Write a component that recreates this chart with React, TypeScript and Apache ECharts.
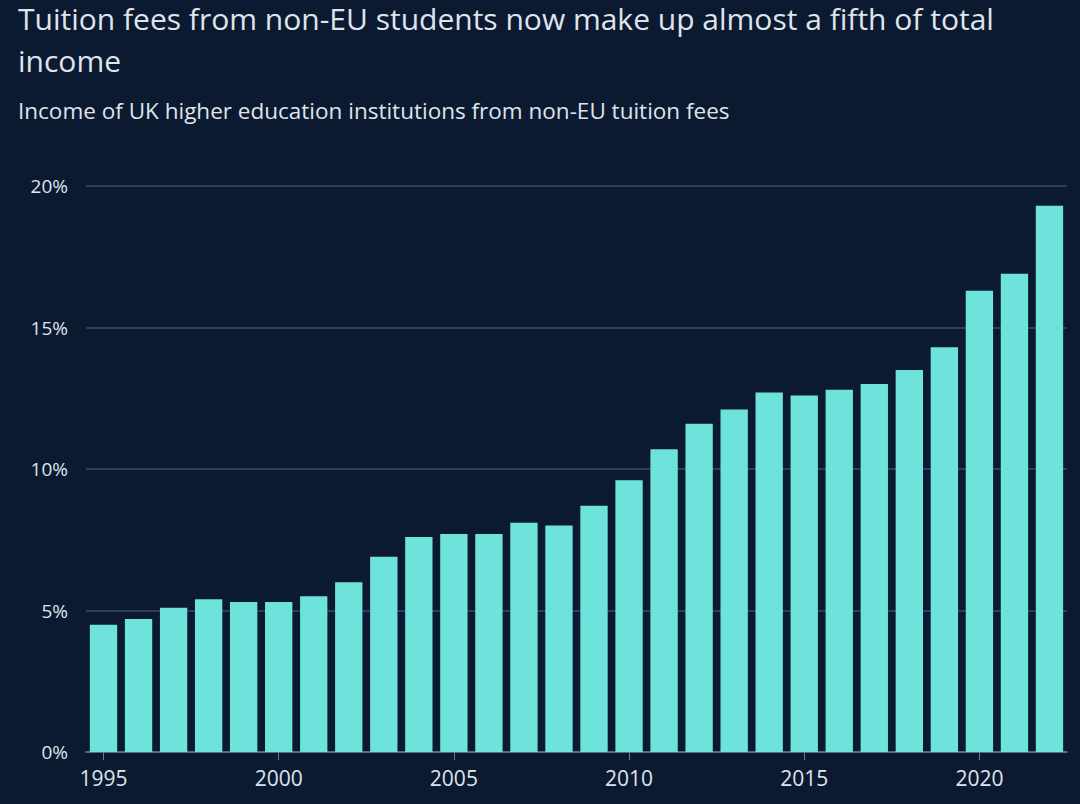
import React, { useEffect, useRef } from "react";
import * as echarts from "echarts";

const years = [
  "1995", "1996", "1997", "1998", "1999", "2000", "2001", "2002", "2003", "2004",
  "2005", "2006", "2007", "2008", "2009", "2010", "2011", "2012", "2013", "2014",
  "2015", "2016", "2017", "2018", "2019", "2020", "2021", "2022",
];
const shareOfIncome = [
  4.5, 4.7, 5.1, 5.4, 5.3, 5.3, 5.5, 6.0, 6.9, 7.6,
  7.7, 7.7, 8.1, 8.0, 8.7, 9.6, 10.7, 11.6, 12.1, 12.7,
  12.6, 12.8, 13.0, 13.5, 14.3, 16.3, 16.9, 19.3,
];
const yTicks = [0, 5, 10, 15, 20];

const titleLine1 = "Tuition fees from non-EU students now make up almost a fifth of total";
const titleLine2 = "income";
const subtitle = "Income of UK higher education institutions from non-EU tuition fees";

const BG = "#0c1a31";
const BAR = "#6de3dc";
const TEXT = "#dfe4ec";
const FONT = "'Open Sans', 'Noto Sans', sans-serif";

export default function App() {
  const ref = useRef<HTMLDivElement>(null);
  useEffect(() => {
    if (!ref.current) return;
    const chart = echarts.init(ref.current, null, { renderer: "svg" });
    chart.setOption({
      animation: false,
      backgroundColor: BG,
      textStyle: { fontFamily: FONT },
      graphic: [
        { type: "text", left: 18, top: 3, style: { text: titleLine1, fill: TEXT, font: `30px ${FONT}` } },
        { type: "text", left: 18, top: 45, style: { text: titleLine2, fill: TEXT, font: `30px ${FONT}` } },
        { type: "text", left: 18, top: 99, style: { text: subtitle, fill: TEXT, font: `22.5px ${FONT}` } },
      ],
      grid: { left: 86, right: 13, top: 186, bottom: 52, containLabel: false },
      xAxis: {
        type: "category",
        data: years,
        axisLine: { show: true, lineStyle: { color: "#6c7a90", width: 1.5 } },
        axisTick: {
          show: true,
          alignWithLabel: true,
          interval: (i: number) => i % 5 === 0,
          length: 8,
          lineStyle: { color: "#6c7a90" },
        },
        axisLabel: {
          interval: (i: number) => i % 5 === 0,
          color: TEXT,
          fontSize: 21,
          fontFamily: FONT,
          margin: 15,
        },
      },
      yAxis: {
        type: "value",
        min: 0,
        max: 20,
        interval: 5,
        axisLine: { show: false },
        axisTick: { show: false },
        splitLine: { lineStyle: { color: "#3b4a63", width: 1.5 } },
        axisLabel: {
          color: TEXT,
          fontSize: 19,
          fontFamily: FONT,
          margin: 18,
          formatter: (v: number) => (yTicks.includes(v) ? `${v}%` : ""),
        },
      },
      series: [
        {
          type: "bar",
          data: shareOfIncome,
          barCategoryGap: "22%",
          itemStyle: { color: BAR },
        },
      ],
    });
    return () => chart.dispose();
  }, []);
  return (
    <div
      ref={ref}
      style={{ position: "fixed", left: 0, top: 0, width: 1080, height: 804 }}
    />
  );
}
